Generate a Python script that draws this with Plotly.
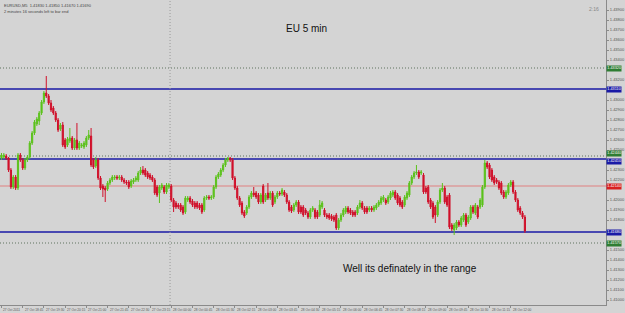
import plotly.graph_objects as go

open_ = [1.4242, 1.4243, 1.4244, 1.4242, 1.4230, 1.4213, 1.4223, 1.4212, 1.4245, 1.4240,
         1.4232, 1.4240, 1.4243, 1.4257, 1.4267, 1.4276, 1.4279, 1.4287, 1.4298, 1.4307,
         1.4304, 1.4297, 1.4292, 1.4287, 1.4280, 1.4271, 1.4275, 1.4260, 1.4255, 1.4259,
         1.4262, 1.4252, 1.4260, 1.4252, 1.4254, 1.4253, 1.4255, 1.4262, 1.4264, 1.4240,
         1.4234, 1.4240, 1.4222, 1.4214, 1.4212, 1.4211, 1.4217, 1.4220, 1.4222, 1.4223,
         1.4222, 1.4223, 1.4220, 1.4218, 1.4218, 1.4214, 1.4218, 1.4220, 1.4220, 1.4227,
         1.4230, 1.4230, 1.4227, 1.4225, 1.4223, 1.4220, 1.4213, 1.4207, 1.4212, 1.4213,
         1.4208, 1.4213, 1.4214, 1.4200, 1.4197, 1.4195, 1.4195, 1.4193, 1.4188, 1.4200,
         1.4202, 1.4199, 1.4197, 1.4197, 1.4195, 1.4195, 1.4190, 1.4202, 1.4203, 1.4202,
         1.4203, 1.4213, 1.4223, 1.4225, 1.4230, 1.4235, 1.4240, 1.4242, 1.4240, 1.4222,
         1.4212, 1.4202, 1.4197, 1.4188, 1.4187, 1.4193, 1.4203, 1.4207, 1.4207, 1.4205,
         1.4198, 1.4214, 1.4200, 1.4207, 1.4202, 1.4207, 1.4198, 1.4203, 1.4207, 1.4206,
         1.4208, 1.4205, 1.4198, 1.4193, 1.4190, 1.4195, 1.4198, 1.4193, 1.4193, 1.4190,
         1.4187, 1.4183, 1.4190, 1.4190, 1.4188, 1.4185, 1.4193, 1.4190, 1.4185, 1.4185,
         1.4184, 1.4183, 1.4185, 1.4172, 1.4180, 1.4185, 1.4188, 1.4192, 1.4190, 1.4188,
         1.4188, 1.4187, 1.4193, 1.4197, 1.4192, 1.4192, 1.4190, 1.4192, 1.4190, 1.4192,
         1.4195, 1.4197, 1.4200, 1.4200, 1.4198, 1.4202, 1.4205, 1.4208, 1.4205, 1.4202,
         1.4198, 1.4195, 1.4202, 1.4205, 1.4217, 1.4223, 1.4227, 1.4228, 1.4227, 1.4225,
         1.4212, 1.4213, 1.4200, 1.4197, 1.4193, 1.4185, 1.4198, 1.4210, 1.4212, 1.4203,
         1.4205, 1.4175, 1.4170, 1.4172, 1.4178, 1.4175, 1.4180, 1.4185, 1.4178, 1.4182,
         1.4193, 1.4187, 1.4193, 1.4193, 1.4195, 1.4213, 1.4237, 1.4235, 1.4230, 1.4223,
         1.4220, 1.4218, 1.4217, 1.4208, 1.4203, 1.4207, 1.4215, 1.4218, 1.4208, 1.4200,
         1.4192, 1.4187, 1.4183]

close = [1.4245, 1.4245, 1.4242, 1.4230, 1.4213, 1.4223, 1.4212, 1.4245, 1.4240, 1.4232,
         1.4240, 1.4243, 1.4257, 1.4267, 1.4278, 1.4281, 1.4287, 1.4298, 1.4307, 1.4304,
         1.4297, 1.4290, 1.4287, 1.4280, 1.4270, 1.4275, 1.4255, 1.4253, 1.4261, 1.4262,
         1.4252, 1.4260, 1.4252, 1.4257, 1.4255, 1.4257, 1.4262, 1.4265, 1.4235, 1.4233,
         1.4240, 1.4222, 1.4212, 1.4211, 1.4210, 1.4217, 1.4220, 1.4223, 1.4223, 1.4222,
         1.4223, 1.4220, 1.4218, 1.4217, 1.4213, 1.4219, 1.4220, 1.4222, 1.4227, 1.4230,
         1.4227, 1.4225, 1.4223, 1.4222, 1.4220, 1.4207, 1.4205, 1.4213, 1.4215, 1.4208,
         1.4215, 1.4215, 1.4200, 1.4193, 1.4193, 1.4193, 1.4190, 1.4187, 1.4202, 1.4202,
         1.4198, 1.4195, 1.4193, 1.4193, 1.4192, 1.4188, 1.4202, 1.4203, 1.4202, 1.4203,
         1.4213, 1.4223, 1.4226, 1.4230, 1.4235, 1.4240, 1.4242, 1.4240, 1.4222, 1.4212,
         1.4202, 1.4195, 1.4187, 1.4184, 1.4193, 1.4203, 1.4207, 1.4205, 1.4203, 1.4198,
         1.4205, 1.4198, 1.4205, 1.4202, 1.4207, 1.4195, 1.4203, 1.4207, 1.4206, 1.4210,
         1.4205, 1.4198, 1.4190, 1.4189, 1.4195, 1.4198, 1.4188, 1.4188, 1.4185, 1.4187,
         1.4183, 1.4190, 1.4192, 1.4183, 1.4183, 1.4195, 1.4197, 1.4185, 1.4183, 1.4182,
         1.4181, 1.4180, 1.4172, 1.4180, 1.4185, 1.4190, 1.4192, 1.4188, 1.4187, 1.4185,
         1.4185, 1.4193, 1.4197, 1.4192, 1.4188, 1.4188, 1.4192, 1.4190, 1.4193, 1.4195,
         1.4198, 1.4202, 1.4203, 1.4197, 1.4203, 1.4207, 1.4208, 1.4202, 1.4197, 1.4195,
         1.4193, 1.4203, 1.4207, 1.4217, 1.4223, 1.4227, 1.4228, 1.4223, 1.4228, 1.4208,
         1.4208, 1.4198, 1.4193, 1.4183, 1.4185, 1.4198, 1.4210, 1.4212, 1.4198, 1.4195,
         1.4173, 1.4171, 1.4175, 1.4178, 1.4175, 1.4182, 1.4185, 1.4175, 1.4183, 1.4193,
         1.4188, 1.4195, 1.4183, 1.4200, 1.4213, 1.4237, 1.4233, 1.4223, 1.4220, 1.4217,
         1.4218, 1.4212, 1.4207, 1.4203, 1.4208, 1.4215, 1.4218, 1.4208, 1.4200, 1.4190,
         1.4187, 1.4183, 1.4169]

high = [1.4247, 1.4247, 1.4246, 1.4243, 1.4232, 1.4225, 1.4225, 1.4247, 1.4247, 1.4242,
        1.4242, 1.4245, 1.4259, 1.4269, 1.4280, 1.4283, 1.4289, 1.4300, 1.4309, 1.4324,
        1.4306, 1.4300, 1.4294, 1.4289, 1.4282, 1.4277, 1.4278, 1.4262, 1.4263, 1.4272,
        1.4264, 1.4262, 1.4277, 1.4259, 1.4257, 1.4259, 1.4264, 1.4270, 1.4272, 1.4242,
        1.4243, 1.4242, 1.4224, 1.4216, 1.4214, 1.4219, 1.4222, 1.4225, 1.4225, 1.4225,
        1.4225, 1.4225, 1.4222, 1.4220, 1.4220, 1.4221, 1.4222, 1.4224, 1.4229, 1.4233,
        1.4234, 1.4232, 1.4229, 1.4227, 1.4225, 1.4222, 1.4215, 1.4215, 1.4217, 1.4215,
        1.4217, 1.4217, 1.4216, 1.4202, 1.4199, 1.4197, 1.4197, 1.4195, 1.4204, 1.4204,
        1.4204, 1.4201, 1.4199, 1.4199, 1.4197, 1.4197, 1.4204, 1.4205, 1.4205, 1.4205,
        1.4215, 1.4225, 1.4228, 1.4232, 1.4237, 1.4242, 1.4243, 1.4243, 1.4242, 1.4224,
        1.4214, 1.4204, 1.4199, 1.4190, 1.4195, 1.4205, 1.4209, 1.4213, 1.4209, 1.4207,
        1.4207, 1.4216, 1.4207, 1.4217, 1.4209, 1.4209, 1.4205, 1.4209, 1.4209, 1.4212,
        1.4210, 1.4207, 1.4200, 1.4195, 1.4197, 1.4200, 1.4200, 1.4195, 1.4195, 1.4192,
        1.4189, 1.4192, 1.4194, 1.4192, 1.4190, 1.4200, 1.4199, 1.4192, 1.4187, 1.4187,
        1.4186, 1.4185, 1.4187, 1.4182, 1.4187, 1.4192, 1.4194, 1.4194, 1.4192, 1.4190,
        1.4190, 1.4195, 1.4200, 1.4199, 1.4194, 1.4194, 1.4194, 1.4194, 1.4195, 1.4197,
        1.4200, 1.4204, 1.4205, 1.4202, 1.4205, 1.4209, 1.4210, 1.4210, 1.4207, 1.4204,
        1.4200, 1.4205, 1.4209, 1.4219, 1.4225, 1.4229, 1.4235, 1.4230, 1.4230, 1.4227,
        1.4214, 1.4215, 1.4202, 1.4199, 1.4195, 1.4200, 1.4212, 1.4217, 1.4214, 1.4205,
        1.4207, 1.4177, 1.4177, 1.4180, 1.4180, 1.4184, 1.4187, 1.4187, 1.4185, 1.4195,
        1.4195, 1.4197, 1.4195, 1.4202, 1.4215, 1.4240, 1.4239, 1.4237, 1.4232, 1.4225,
        1.4222, 1.4220, 1.4219, 1.4210, 1.4210, 1.4217, 1.4220, 1.4220, 1.4210, 1.4202,
        1.4194, 1.4189, 1.4185]

low = [1.4240, 1.4241, 1.4240, 1.4228, 1.4211, 1.4211, 1.4210, 1.4210, 1.4238, 1.4230,
       1.4230, 1.4238, 1.4241, 1.4255, 1.4265, 1.4274, 1.4275, 1.4285, 1.4296, 1.4302,
       1.4295, 1.4288, 1.4285, 1.4278, 1.4268, 1.4269, 1.4253, 1.4251, 1.4253, 1.4257,
       1.4250, 1.4250, 1.4250, 1.4250, 1.4252, 1.4251, 1.4253, 1.4260, 1.4233, 1.4231,
       1.4232, 1.4220, 1.4210, 1.4203, 1.4198, 1.4209, 1.4215, 1.4218, 1.4220, 1.4220,
       1.4220, 1.4218, 1.4216, 1.4215, 1.4211, 1.4212, 1.4216, 1.4218, 1.4218, 1.4225,
       1.4225, 1.4223, 1.4221, 1.4220, 1.4218, 1.4205, 1.4203, 1.4197, 1.4210, 1.4206,
       1.4206, 1.4211, 1.4198, 1.4188, 1.4191, 1.4191, 1.4188, 1.4185, 1.4186, 1.4198,
       1.4196, 1.4193, 1.4191, 1.4191, 1.4190, 1.4186, 1.4188, 1.4200, 1.4200, 1.4200,
       1.4201, 1.4211, 1.4221, 1.4223, 1.4228, 1.4233, 1.4238, 1.4238, 1.4220, 1.4210,
       1.4200, 1.4193, 1.4185, 1.4182, 1.4185, 1.4191, 1.4201, 1.4203, 1.4201, 1.4196,
       1.4196, 1.4196, 1.4198, 1.4200, 1.4200, 1.4193, 1.4196, 1.4201, 1.4204, 1.4204,
       1.4203, 1.4196, 1.4188, 1.4187, 1.4188, 1.4193, 1.4186, 1.4186, 1.4183, 1.4185,
       1.4181, 1.4181, 1.4188, 1.4181, 1.4181, 1.4183, 1.4191, 1.4183, 1.4181, 1.4180,
       1.4179, 1.4178, 1.4170, 1.4170, 1.4178, 1.4183, 1.4186, 1.4186, 1.4185, 1.4183,
       1.4183, 1.4185, 1.4191, 1.4190, 1.4186, 1.4186, 1.4188, 1.4188, 1.4188, 1.4190,
       1.4193, 1.4195, 1.4198, 1.4195, 1.4196, 1.4200, 1.4203, 1.4200, 1.4195, 1.4193,
       1.4191, 1.4193, 1.4200, 1.4203, 1.4215, 1.4221, 1.4225, 1.4221, 1.4225, 1.4206,
       1.4206, 1.4196, 1.4191, 1.4181, 1.4177, 1.4183, 1.4196, 1.4208, 1.4196, 1.4193,
       1.4171, 1.4169, 1.4165, 1.4170, 1.4173, 1.4173, 1.4178, 1.4173, 1.4176, 1.4180,
       1.4186, 1.4185, 1.4181, 1.4191, 1.4193, 1.4211, 1.4231, 1.4221, 1.4218, 1.4215,
       1.4216, 1.4210, 1.4205, 1.4201, 1.4201, 1.4205, 1.4213, 1.4206, 1.4198, 1.4188,
       1.4185, 1.4181, 1.4167]

# horizontal levels
blue_levels = [1.4311, 1.4241, 1.4168]
dotted_levels = [1.4332, 1.4244, 1.4157]
red_levels = [1.4214]

# time axis labels (one every 9 bars of 5 min)
time_label_bars = [0, 9, 18, 27, 36, 45, 54, 63, 72, 81, 90, 99, 108, 117, 126,
                   135, 144, 153, 162, 171, 180, 189, 198, 207, 216]
time_labels = ["27 Oct 2011", "27 Oct 18:45", "27 Oct 19:30", "27 Oct 20:15", "27 Oct 21:00",
               "27 Oct 21:45", "27 Oct 22:30", "27 Oct 23:15", "28 Oct 00:00", "28 Oct 00:45",
               "28 Oct 01:30", "28 Oct 02:15", "28 Oct 03:00", "28 Oct 03:45", "28 Oct 04:30",
               "28 Oct 05:15", "28 Oct 06:00", "28 Oct 06:45", "28 Oct 07:30", "28 Oct 08:15",
               "28 Oct 09:00", "28 Oct 09:45", "28 Oct 10:30", "28 Oct 11:15", "28 Oct 12:00"]
day_separator_bar = 72

all_levels = blue_levels + dotted_levels + red_levels
price_ticks = [round(1.4100 + 0.0010 * k, 4) for k in range(30)]
# labels hidden where a level tag sits over them (as the tags cover them in the terminal)
price_ticks_shown = [p for p in price_ticks if all(abs(p - lv) > 0.00055 for lv in all_levels)]

bars = list(range(len(close)))
BG = "#d4d4d4"

fig = go.Figure()
fig.add_trace(go.Candlestick(
    x=bars, open=open_, high=high, low=low, close=close,
    increasing=dict(line=dict(color="#5cc21c", width=1), fillcolor="#5cc21c"),
    decreasing=dict(line=dict(color="#d0102a", width=1), fillcolor="#d0102a"),
    whiskerwidth=0, hoverinfo="skip", showlegend=False,
))

shapes = []
for lv in blue_levels:
    shapes.append(dict(type="line", xref="paper", x0=0, x1=1, yref="y", y0=lv, y1=lv,
                       line=dict(color="#1a1aa6", width=1.3), layer="below"))
for lv in dotted_levels:
    shapes.append(dict(type="line", xref="paper", x0=0, x1=1, yref="y", y0=lv, y1=lv,
                       line=dict(color="#5f725f", width=1, dash="1px,2px"), layer="below"))
for lv in red_levels:
    shapes.append(dict(type="line", xref="paper", x0=0, x1=1, yref="y", y0=lv, y1=lv,
                       line=dict(color="#e08080", width=1), layer="below"))
shapes.append(dict(type="line", xref="x", x0=day_separator_bar - 0.5, x1=day_separator_bar - 0.5,
                   yref="paper", y0=0, y1=1,
                   line=dict(color="#9a9a9a", width=1, dash="1px,2px"), layer="below"))

annotations = []
# bottom time labels, left aligned at ticks
for b, t in zip(time_label_bars, time_labels):
    annotations.append(dict(x=b, y=0, xref="x", yref="paper", text=t, showarrow=False,
                            xanchor="left", yanchor="top", xshift=0, yshift=-1,
                            font=dict(size=3.2, color="#555555", family="Liberation Sans")))

# right price tags (stacked apart when two levels nearly coincide)
def tag(price, color, shift):
    return dict(x=1, y=price, xref="paper", yref="y", text=f"{price:.5f}", showarrow=False,
                xanchor="left", yanchor="middle", bgcolor=color, borderpad=0.3, yshift=shift,
                font=dict(size=3.8, color="white", family="Liberation Sans"))

def near(lv, others):
    return any(abs(lv - o) < 0.0006 for o in others)

for lv in blue_levels:
    annotations.append(tag(lv, "#1a1aa6", -2.5 if near(lv, dotted_levels) else 0))
for lv in dotted_levels:
    annotations.append(tag(lv, "#2e7d32", 2.5 if near(lv, blue_levels) else 0))
for lv in red_levels:
    annotations.append(tag(lv, "#d82020", 0))

annotations += [
    dict(x=0.505, y=0.905, xref="paper", yref="paper", text="EU 5 min", showarrow=False,
         xanchor="center", yanchor="middle",
         font=dict(size=10, color="#111111", family="Liberation Sans")),
    dict(x=0.676, y=0.121, xref="paper", yref="paper", text="Well its definately in the range",
         showarrow=False, xanchor="center", yanchor="middle",
         font=dict(size=10, color="#111111", family="Liberation Sans")),
    dict(x=0.003, y=0.998, xref="paper", yref="paper",
         text=f"EURUSD,M5  {open_[-1]:.5f} {high[-1]:.5f} {low[-1]:.5f} {close[-1]:.5f}",
         showarrow=False, xanchor="left", yanchor="top",
         font=dict(size=4, color="#444444", family="Liberation Sans")),
    dict(x=0.003, y=0.978, xref="paper", yref="paper",
         text="2 minutes 16 seconds left to bar end",
         showarrow=False, xanchor="left", yanchor="top",
         font=dict(size=4, color="#444444", family="Liberation Sans")),
    dict(x=0.98, y=0.97, xref="paper", yref="paper", text="2:16", showarrow=False,
         xanchor="center", yanchor="middle",
         font=dict(size=5, color="#888888", family="Liberation Sans")),
]

fig.update_layout(
    width=625, height=313,
    margin=dict(l=0, r=13, t=0, b=8),
    paper_bgcolor=BG, plot_bgcolor=BG,
    shapes=shapes, annotations=annotations,
    xaxis=dict(range=[-0.63, 256.4], rangeslider=dict(visible=False),
               showgrid=False, zeroline=False, showline=True, linecolor="#8a8a8a",
               linewidth=1, tickvals=time_label_bars, ticktext=[""] * len(time_label_bars),
               ticks="outside", ticklen=2, tickcolor="#8a8a8a", fixedrange=True),
    yaxis=dict(range=[1.4095, 1.4400], side="right", showgrid=False, zeroline=False,
               showline=True, linecolor="#8a8a8a", linewidth=1,
               tickvals=price_ticks_shown, tickformat=".5f", ticks="outside", ticklen=2,
               tickcolor="#8a8a8a",
               tickfont=dict(size=4, color="#555555", family="Liberation Sans"),
               fixedrange=True),
)

fig.write_html("out.html")
